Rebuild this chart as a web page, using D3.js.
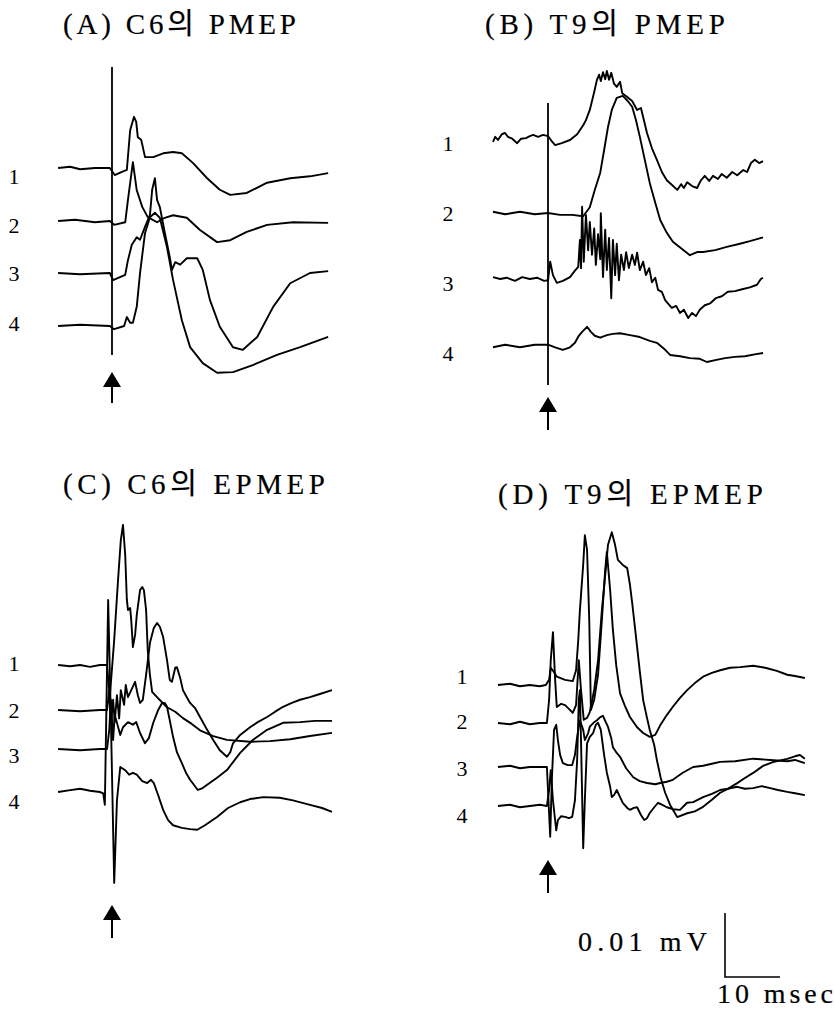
<!DOCTYPE html>
<html>
<head>
<meta charset="utf-8">
<script src="https://cdn.jsdelivr.net/npm/d3@7"></script>
<style>
  body { margin: 0; background: #fff; }
  text { font-family: "Liberation Serif", "DejaVu Serif", "Noto Sans CJK KR", serif; fill: #000; }
  .title, .calib { stroke: #000; stroke-width: 0.2px; }
</style>
</head>
<body>
<div id="chart"></div>
<script>
// each trace: [time after stimulus (msec), amplitude (uV)]
const c6PMEP1 = [[-9.8,0],[-7.6,0.2],[-5.8,-0.2],[-3.1,0],[-0.4,0],[0.5,-1.1],[1.8,-0.6],[2.7,-0.3],[3.3,5.9],[4.0,8.0],[4.4,7.2],[4.7,4.8],[5.3,4.4],[5.6,3.3],[6.0,1.7],[7.5,1.7],[9.3,2.3],[11.1,2.5],[12.7,2.3],[14.7,0.8],[17.3,-1.6],[19.6,-3.4],[21.5,-4.2],[24.5,-3.9],[28.2,-2.3],[32.4,-1.6],[36.0,-1.3],[39.3,-0.8]];
const c6PMEP2 = [[-9.8,0],[-6.7,0.2],[-3.1,-0.2],[-0.4,0],[0.4,-0.6],[2.4,-0.2],[2.9,3.3],[3.8,9.2],[4.5,4.8],[5.5,2.2],[6.5,0.6],[8.2,-0.2],[9.6,0.5],[11.1,0.9],[13.6,0.5],[16.0,-1.4],[19.1,-3.3],[21.5,-3.0],[24.5,-1.7],[28.2,-0.6],[32.9,-0.2],[39.3,-0.3]];
const c6PMEP3 = [[-9.8,0],[-5.8,-0.2],[-0.4,0],[0.2,-1.1],[2.4,-0.3],[2.9,2.0],[3.6,4.4],[4.5,5.6],[5.1,5.2],[6.0,7.2],[6.9,9.1],[7.3,13.0],[7.8,14.8],[8.2,11.4],[8.7,10.3],[9.6,6.3],[10.5,2.5],[10.9,0.5],[11.5,1.7],[12.4,1.3],[13.6,2.3],[15.5,2.3],[16.5,0.5],[17.8,-4.2],[19.6,-8.4],[22.0,-11.6],[23.8,-12.0],[26.4,-10.0],[29.3,-5.3],[32.4,-1.6],[36.0,0],[39.3,0.3]];
const c6PMEP4 = [[-9.8,0],[-5.8,0.2],[-0.4,0],[0.4,-0.5],[2.2,0],[2.7,1.4],[3.3,0.5],[3.8,0.5],[4.5,3.0],[5.1,8.3],[6.0,14.5],[6.9,17.0],[7.8,17.7],[8.7,16.9],[10.0,12.3],[11.1,7.2],[12.7,0.9],[14.2,-3.3],[16.5,-5.8],[19.1,-7.3],[22.0,-7.2],[25.6,-6.1],[30.0,-4.5],[34.2,-3.3],[39.3,-1.7]];

const t9PMEP1 = [[-10.0,-0.3],[-9.6,0.5],[-9.1,0],[-8.4,0.9],[-7.8,1.1],[-7.3,0.5],[-6.5,0.2],[-5.6,-0.5],[-4.9,0.2],[-4.0,0.3],[-3.3,0.6],[-2.7,0.8],[-1.8,0.5],[-0.9,0.8],[0,0.6],[0.7,-0.2],[1.3,-0.8],[2.5,-0.5],[4.0,0],[5.3,0.9],[6.4,2.3],[6.9,3.1],[7.6,4.7],[8.4,7.5],[8.9,9.4],[9.3,10.2],[9.6,9.2],[10.0,10.6],[10.4,9.5],[10.7,10.8],[11.1,9.4],[11.5,10.5],[12.0,8.8],[12.5,8.3],[13.1,9.1],[13.5,7.3],[14.4,6.7],[15.3,6.1],[16.2,4.7],[16.9,5.0],[18.0,1.1],[18.9,-1.3],[19.8,-3.1],[20.7,-5.0],[21.6,-6.3],[22.5,-7.0],[23.5,-7.8],[24.2,-6.9],[24.7,-7.5],[25.3,-6.6],[26.2,-7.2],[27.1,-7.5],[27.8,-6.3],[28.5,-5.6],[29.3,-6.4],[30.0,-5.6],[30.9,-6.1],[31.6,-5.3],[32.5,-5.9],[33.5,-5.0],[34.4,-5.5],[35.5,-4.7],[36.2,-5.0],[36.9,-3.6],[37.6,-3.1],[38.4,-3.6],[39.1,-3.3]];
const t9PMEP2 = [[-10.0,0.2],[-7.8,-0.2],[-5.1,0.2],[-2.4,-0.2],[0,0],[2.2,-0.3],[4.4,-0.3],[6.4,-0.5],[7.6,0.9],[8.5,3.6],[9.5,6.3],[10.2,9.8],[10.9,13.4],[11.6,16.1],[12.5,18.0],[13.6,18.3],[14.5,17.5],[15.3,16.6],[16.0,14.5],[16.7,11.9],[17.6,8.3],[18.5,4.7],[19.5,1.6],[20.4,-1.1],[21.6,-3.1],[22.7,-4.5],[24.2,-5.5],[25.8,-6.6],[27.1,-6.1],[28.2,-6.1],[30.4,-5.8],[32.5,-5.3],[34.9,-4.8],[36.7,-4.4],[39.1,-3.8]];
const t9PMEP3 = [[-10.0,0.3],[-8.7,0],[-7.5,0.2],[-6.0,-0.3],[-4.7,0.3],[-3.3,0],[-2.0,0.2],[-0.7,-0.3],[0,-0.2],[0.4,2.7],[0.9,0.6],[1.6,-0.6],[2.7,-0.3],[4.0,0.3],[4.9,1.3],[5.5,1.9],[5.8,6.1],[6.0,1.7],[6.2,11.3],[6.5,2.7],[6.9,10.0],[7.3,4.5],[7.6,8.9],[8.0,3.8],[8.4,7.9],[8.7,2.2],[9.1,7.0],[9.5,3.1],[9.6,10.3],[10.0,0.3],[10.4,7.7],[10.7,1.4],[11.1,6.4],[11.5,-3.0],[11.8,6.1],[12.2,0.6],[12.5,5.5],[12.9,-0.2],[13.3,3.8],[13.8,1.4],[14.2,4.2],[14.7,1.7],[15.3,3.8],[15.8,2.2],[16.2,4.1],[16.7,1.4],[17.3,2.7],[17.8,0.6],[18.4,1.7],[18.9,-0.5],[19.5,0.2],[20.0,-1.7],[20.7,-2.0],[21.3,-3.3],[21.8,-3.8],[22.5,-4.5],[23.3,-4.2],[24.0,-5.3],[24.7,-4.8],[25.5,-6.1],[26.2,-5.3],[26.9,-5.8],[27.6,-4.8],[28.5,-4.1],[29.5,-3.8],[30.5,-3.0],[31.6,-2.7],[32.7,-2.0],[34.0,-1.9],[35.3,-1.6],[36.7,-1.3],[38.0,-0.9],[38.7,0],[39.1,0.2]];
const t9PMEP4 = [[-10.0,-0.2],[-7.8,0.2],[-5.1,-0.2],[-2.4,0.2],[0,0.2],[1.3,-0.2],[2.7,-0.6],[4.0,-0.2],[4.9,0.5],[5.6,1.6],[6.2,2.2],[7.1,3.0],[7.8,2.2],[8.5,1.6],[9.5,1.3],[10.7,1.7],[11.8,1.9],[13.1,2.0],[14.9,1.7],[16.7,1.4],[18.5,0.8],[19.8,0.5],[21.3,-0.6],[22.2,-1.4],[24.0,-1.6],[25.8,-1.9],[27.6,-2.0],[28.9,-2.5],[30.4,-2.2],[32.2,-1.9],[34.0,-1.7],[35.8,-1.6],[37.6,-1.3],[39.1,-1.1]];

const c6EPMEP1 = [[-9.8,0],[-7.6,-0.2],[-5.8,0],[-4.0,-0.3],[-2.2,0],[-0.9,0],[-0.4,-5.0],[0.4,3.9],[1.1,13.3],[1.6,19.5],[2.0,21.9],[2.4,17.2],[2.7,10.2],[2.9,8.6],[3.3,8.9],[3.5,7.0],[3.8,2.8],[4.2,4.7],[4.5,7.8],[5.1,11.7],[5.5,12.2],[5.8,11.7],[6.2,8.6],[6.5,2.3],[6.9,-1.6],[7.3,-4.2],[8.4,-5.2],[10.0,-6.6],[11.5,-7.3],[12.9,-8.3],[14.5,-9.2],[16.0,-10.2],[18.4,-11.1],[20.9,-11.7],[25.1,-12.0],[28.7,-11.9],[32.4,-11.6],[36.0,-11.1],[40.0,-10.6]];
const c6EPMEP2 = [[-9.8,0],[-5.8,-0.2],[-2.2,0],[-0.9,0],[-0.5,3.1],[-0.2,-2.3],[0.2,1.6],[0.5,-1.9],[0.9,2.3],[1.3,-1.3],[1.6,3.1],[2.2,0.8],[2.5,3.9],[2.9,2.0],[3.5,3.1],[4.2,4.4],[4.7,2.3],[5.1,1.1],[5.6,1.6],[6.2,5.5],[6.9,10.5],[7.6,12.8],[8.2,13.6],[8.7,13.0],[9.3,11.4],[10.0,7.8],[10.5,4.7],[10.9,4.4],[11.5,6.6],[11.8,6.7],[12.4,5.0],[12.9,3.1],[13.6,2.0],[14.2,1.1],[15.1,0.3],[16.0,-1.1],[17.3,-3.1],[18.4,-4.7],[19.6,-6.3],[20.9,-7.3],[21.5,-6.6],[22.0,-5.2],[23.3,-3.9],[25.1,-2.7],[26.5,-1.9],[28.2,-1.1],[29.6,-0.3],[31.1,0.5],[32.7,1.1],[34.2,1.6],[36.0,2.0],[37.8,2.5],[40.0,3.1]];
const c6EPMEP3 = [[-9.8,0],[-5.8,-0.2],[-2.2,0],[-0.9,0],[-0.5,3.0],[-0.2,7.7],[0.2,1.4],[0.5,5.3],[0.9,4.1],[1.5,2.2],[2.0,3.4],[2.9,4.2],[3.8,3.8],[4.4,4.2],[5.1,2.5],[6.0,0.9],[6.7,1.7],[7.5,4.1],[8.4,6.1],[9.1,7.2],[9.6,7.2],[10.0,6.6],[10.5,4.5],[11.1,1.9],[11.8,-0.5],[12.7,-2.2],[13.5,-3.8],[14.2,-4.8],[15.6,-6.4],[16.5,-6.1],[17.3,-5.6],[19.1,-4.5],[20.9,-3.3],[23.3,-0.6],[25.6,1.4],[28.2,3.0],[31.1,4.1],[34.2,4.2],[36.9,4.4],[40.0,4.4]];
const c6EPMEP4 = [[-9.8,0],[-7.6,0.3],[-5.8,0.5],[-4.0,0.2],[-2.2,0],[-1.6,-0.2],[-1.3,-2.0],[-0.7,30.0],[-0.2,11.3],[0.4,-14.2],[0.9,-1.3],[1.5,3.9],[2.4,3.4],[3.1,2.7],[3.8,3.0],[4.5,2.7],[5.5,1.7],[6.4,1.4],[7.1,1.9],[7.6,1.4],[8.4,-0.5],[9.3,-2.8],[10.2,-4.4],[11.1,-5.2],[12.7,-5.6],[14.2,-5.8],[15.5,-5.9],[16.9,-5.2],[19.1,-3.9],[21.1,-2.5],[23.3,-1.6],[25.1,-1.1],[27.5,-0.8],[30.5,-0.9],[32.9,-1.3],[36.0,-2.0],[38.2,-2.5],[40.0,-3.1]];

const t9EPMEP1 = [[-9.1,0],[-6.9,0.2],[-5.1,-0.2],[-3.3,0],[-1.5,-0.2],[-0.4,0],[0.2,0.8],[0.5,2.7],[1.1,2.0],[1.6,1.3],[3.1,0.8],[4.5,0.6],[5.1,2.3],[5.5,7.0],[5.8,11.7],[6.4,18.8],[6.7,23.4],[7.1,21.1],[7.5,10.2],[7.8,-3.9],[8.4,-2.3],[9.1,1.6],[9.8,10.2],[10.4,18.0],[10.7,20.8],[11.3,14.8],[11.8,8.6],[12.4,3.1],[13.1,-1.3],[14.0,-3.3],[14.9,-5.0],[16.2,-6.6],[17.3,-7.5],[18.5,-8.1],[19.5,-7.8],[20.4,-6.3],[21.6,-4.7],[22.7,-3.4],[24.0,-2.0],[25.3,-0.8],[26.7,0.3],[28.2,1.3],[29.8,1.9],[31.3,2.3],[33.1,2.7],[34.9,2.8],[37.3,3.0],[39.5,2.7],[41.6,2.2],[43.5,1.6],[44.9,1.4],[46.7,1.1]];
const t9EPMEP2 = [[-9.1,0],[-6.9,-0.2],[-5.1,0.2],[-3.3,-0.2],[-1.5,0],[-0.2,0],[0.2,3.6],[0.5,9.8],[0.9,14.2],[1.3,6.7],[1.6,2.5],[2.4,3.0],[3.1,2.8],[3.8,2.2],[4.5,1.6],[5.1,2.8],[5.6,9.8],[6.0,5.2],[6.5,0.5],[7.1,0.8],[7.6,1.7],[8.4,5.2],[9.1,9.8],[9.8,17.7],[10.4,23.1],[10.9,27.8],[11.6,29.8],[12.2,27.8],[12.7,25.5],[13.6,24.7],[14.4,24.2],[14.9,21.6],[15.3,18.8],[15.8,15.0],[16.2,11.9],[16.7,8.0],[17.3,3.6],[18.0,0.8],[18.5,-1.1],[19.3,-3.4],[19.8,-5.8],[20.5,-8.6],[21.3,-10.9],[22.2,-12.8],[23.5,-14.7],[25.3,-14.1],[26.7,-13.8],[28.2,-13.1],[29.8,-12.0],[31.3,-10.9],[32.7,-10.3],[34.4,-9.4],[35.8,-8.6],[37.3,-7.8],[39.1,-6.7],[40.9,-6.1],[43.5,-5.6],[44.9,-5.2],[45.8,-5.0],[46.7,-5.6]];
const t9EPMEP3 = [[-9.1,0],[-6.9,0.2],[-5.1,-0.2],[-3.3,0],[-1.5,0],[-0.2,0],[0.4,-10.9],[0.7,-2.0],[1.1,5.8],[1.5,6.6],[1.8,4.2],[2.2,1.9],[2.7,0.6],[3.6,0.3],[4.4,0.3],[4.9,1.9],[5.3,4.7],[5.8,7.3],[6.4,5.8],[6.7,4.2],[7.3,5.3],[7.6,6.3],[8.4,7.0],[8.9,7.3],[9.5,7.8],[10.0,8.0],[10.5,7.0],[10.9,6.3],[11.5,4.5],[11.8,3.1],[12.5,2.2],[13.1,1.6],[14.2,-0.2],[15.5,-1.6],[16.7,-2.2],[18.0,-2.5],[19.5,-2.7],[20.4,-2.5],[21.6,-2.3],[22.7,-2.0],[24.5,-0.9],[26.4,0],[28.2,0.2],[29.8,0.5],[31.3,0.8],[34.0,0.9],[37.3,1.3],[40.4,1.1],[43.5,0.9],[44.9,1.1],[46.7,0.6]];
const t9EPMEP4 = [[-9.1,0],[-6.9,0.2],[-5.1,-0.2],[-3.3,0],[-1.5,0.2],[-0.2,0],[0.2,2.5],[0.5,5.6],[0.9,0.9],[1.5,-3.8],[1.8,-2.2],[2.4,-1.6],[3.1,-1.7],[3.8,-1.9],[4.4,-1.7],[4.9,0.9],[5.3,7.2],[5.6,16.6],[5.8,18.1],[6.0,10.3],[6.4,-6.6],[6.7,0.9],[7.1,9.8],[7.6,10.8],[8.2,11.4],[8.7,12.7],[9.1,13.0],[9.6,11.9],[10.2,8.0],[10.7,5.2],[11.3,3.0],[11.6,1.4],[12.0,1.7],[12.5,2.5],[13.1,1.4],[13.6,0.5],[14.4,-0.3],[14.9,-0.6],[15.6,-0.3],[16.2,-0.2],[16.9,-1.4],[17.5,-2.2],[18.0,-1.9],[18.5,-1.1],[19.5,0],[20.0,0.5],[20.7,0.2],[21.6,-0.2],[22.7,-0.5],[24.0,-0.6],[24.7,0],[25.3,0.5],[26.4,0.6],[28.2,1.4],[29.8,1.9],[31.3,2.5],[32.7,2.7],[34.4,3.0],[35.8,2.7],[37.3,2.8],[38.9,3.1],[40.4,2.8],[41.8,2.5],[43.5,2.2],[44.9,2.0],[46.7,1.7]];

const panelTitles = ["(A) C6의 PMEP", "(B) T9의 PMEP", "(C) C6의 EPMEP", "(D) T9의 EPMEP"];
const traceLabels = ["1", "2", "3", "4"];
const scaleBar = { ms: 10, uV: 10, msLabel: "10 msec", uVLabel: "0.01 mV" };

// page layout (pixels)
const msPx = 5.5, uVPx = 6.4;
const layout = [
  { traces: [c6PMEP1, c6PMEP2, c6PMEP3, c6PMEP4], stimX: 112, base: [168, 221, 273, 326],
    labelX: 14, labelY: [184, 233, 281, 331], titleX: 63, titleY: 34, titleW: 233,
    stimLine: [67, 355], arrowTip: 372, arrowEnd: 403 },
  { traces: [t9PMEP1, t9PMEP2, t9PMEP3, t9PMEP4], stimX: 548, base: [140, 213, 279, 346],
    labelX: 448, labelY: [151, 221, 291, 361], titleX: 485, titleY: 34, titleW: 240,
    stimLine: [103, 385], arrowTip: 397, arrowEnd: 430 },
  { traces: [c6EPMEP1, c6EPMEP2, c6EPMEP3, c6EPMEP4], stimX: 112, base: [665, 710, 749, 792],
    labelX: 14, labelY: [671, 718, 763, 809], titleX: 63, titleY: 494, titleW: 262,
    stimLine: null, arrowTip: 905, arrowEnd: 938 },
  { traces: [t9EPMEP1, t9EPMEP2, t9EPMEP3, t9EPMEP4], stimX: 548, base: [685, 723, 767, 806],
    labelX: 462, labelY: [684, 729, 776, 823], titleX: 498, titleY: 504, titleW: 265,
    stimLine: null, arrowTip: 860, arrowEnd: 893 }
];

const svg = d3.select("#chart").append("svg")
  .attr("width", 835)
  .attr("height", 1023)
  .style("background", "#fff");

layout.forEach((p, i) => {
  const g = svg.append("g");
  const x = d3.scaleLinear().domain([0, 10]).range([p.stimX, p.stimX + 10 * msPx]);

  g.append("text")
    .attr("class", "title")
    .attr("x", p.titleX)
    .attr("y", p.titleY)
    .attr("textLength", p.titleW)
    .attr("lengthAdjust", "spacing")
    .style("font-size", "29px")
    .text(panelTitles[i]);

  p.traces.forEach((tr, j) => {
    const y = d3.scaleLinear().domain([0, 10]).range([p.base[j], p.base[j] - 10 * uVPx]);
    const line = d3.line().x(d => x(d[0])).y(d => y(d[1]));
    g.append("path")
      .datum(tr)
      .attr("d", line)
      .attr("fill", "none")
      .attr("stroke", "#000")
      .attr("stroke-width", 1.9)
      .attr("stroke-linejoin", "round");

    g.append("text")
      .attr("x", p.labelX)
      .attr("y", p.labelY[j])
      .attr("text-anchor", "middle")
      .style("font-size", "22px")
      .text(traceLabels[j]);
  });

  // stimulus marker
  if (p.stimLine) {
    g.append("line")
      .attr("x1", x(0)).attr("x2", x(0))
      .attr("y1", p.stimLine[0]).attr("y2", p.stimLine[1])
      .attr("stroke", "#000")
      .attr("stroke-width", 1.8);
  }
  const ax = x(0);
  g.append("path")
    .attr("d", `M${ax},${p.arrowTip}L${ax - 9},${p.arrowTip + 15}L${ax + 9},${p.arrowTip + 15}Z`)
    .attr("fill", "#000");
  g.append("line")
    .attr("x1", ax).attr("x2", ax)
    .attr("y1", p.arrowTip + 14).attr("y2", p.arrowEnd)
    .attr("stroke", "#000")
    .attr("stroke-width", 2);
});

// calibration bar
const bx = d3.scaleLinear().domain([0, 10]).range([725, 725 + 10 * msPx]);
const by = d3.scaleLinear().domain([0, 10]).range([977, 977 - 10 * uVPx]);
svg.append("path")
  .attr("d", `M${bx(0)},${by(scaleBar.uV)}L${bx(0)},${by(0)}L${bx(scaleBar.ms)},${by(0)}`)
  .attr("fill", "none")
  .attr("stroke", "#000")
  .attr("stroke-width", 1.6);

svg.append("text")
  .attr("class", "calib")
  .attr("x", 578)
  .attr("y", 951)
  .attr("textLength", 129)
  .attr("lengthAdjust", "spacing")
  .style("font-size", "28px")
  .text(scaleBar.uVLabel);

svg.append("text")
  .attr("class", "calib")
  .attr("x", 717)
  .attr("y", 1003)
  .attr("textLength", 116)
  .attr("lengthAdjust", "spacing")
  .style("font-size", "28px")
  .text(scaleBar.msLabel);
</script>
</body>
</html>
